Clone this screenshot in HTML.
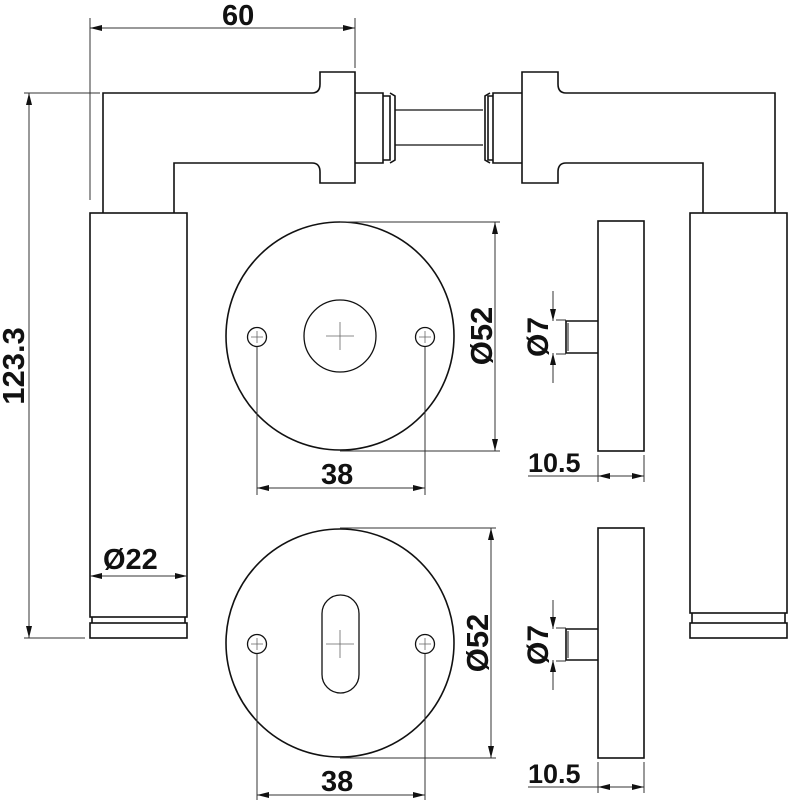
<!DOCTYPE html>
<html><head><meta charset="utf-8"><style>
html,body{margin:0;padding:0;background:#fff;}
svg{display:block;}
text{font-family:"Liberation Sans",sans-serif;font-weight:bold;fill:#111;}
</style></head><body>
<svg width="790" height="800" viewBox="0 0 790 800" xmlns="http://www.w3.org/2000/svg">
<defs>
<marker id="a" viewBox="0 0 12 6" refX="12" refY="3" markerWidth="12" markerHeight="6" orient="auto-start-reverse" markerUnits="userSpaceOnUse"><path d="M0,0 L12,3 L0,6 z" fill="#111"/></marker>
</defs>
<g fill="none" stroke="#111" stroke-width="1.6">
<path d="M103,213 V93 H312 Q320,93 320,84 V72 H355 V183 H320 V172 Q320,163 312,163 H174 V213"/>
<rect x="90" y="213" width="97" height="404"/>
<path d="M92,617 V623 M185,617 V623"/>
<rect x="90" y="623" width="97" height="15"/>
<path d="M355,93 H383 V163 H355"/>
<path d="M383,96 H390 V160 H383"/>
<path d="M390,93 L395,96 V160 L390,163"/>
<path d="M395,110 H483 M395,145 H483" stroke-width="1.2"/>
<path d="M490,93 L485,96 V160 L490,163"/>
<path d="M493,96 H488 V160 H493"/>
<path d="M522,93 H493 V163 H522"/>
<path d="M703,213 V163 H566 Q558,163 558,172 V183 H522 V72 H558 V84 Q558,93 566,93 H775 V213"/>
<rect x="690" y="213" width="97" height="400"/>
<path d="M692,613 V623 M785,613 V623"/>
<rect x="690" y="623" width="97" height="15"/>
<circle cx="340" cy="336" r="114"/>
<circle cx="340" cy="336" r="36" stroke-width="1.3"/>
<circle cx="257" cy="337" r="9.5" stroke-width="1.3"/>
<circle cx="425" cy="337" r="9.5" stroke-width="1.3"/>
<circle cx="340" cy="643" r="114"/>
<rect x="322" y="595" width="37" height="98" rx="18.5" stroke-width="1.3"/>
<circle cx="257" cy="644" r="9.5" stroke-width="1.3"/>
<circle cx="425" cy="644" r="9.5" stroke-width="1.3"/>
<rect x="598" y="221" width="46" height="230"/>
<path d="M598,321 H566 V353 H598"/>
<path d="M568,323 V351" stroke-width="1"/>
<rect x="598" y="528" width="46" height="230"/>
<path d="M598,629 H566 V660 H598"/>
<path d="M568,631 V658" stroke-width="1"/>
</g>
<g stroke="#666" stroke-width="0.8" fill="none">
<path d="M326,336 H354 M340,322 V350"/>
<path d="M251,337 H263 M257,331 V343 M419,337 H431 M425,331 V343"/>
<path d="M326,644 H354 M340,630 V658"/>
<path d="M251,644 H263 M257,638 V650 M419,644 H431 M425,638 V650"/>
</g>
<g stroke="#333" stroke-width="1" fill="none">
<path d="M90,18 V200 M355,18 V68"/>
<path d="M90,28 H355" marker-start="url(#a)" marker-end="url(#a)"/>
<path d="M24,93 H100 M24,638 H85"/>
<path d="M29,93 V638" marker-start="url(#a)" marker-end="url(#a)"/>
<path d="M90,576 H187" marker-start="url(#a)" marker-end="url(#a)"/>
<path d="M340,222 H500 M340,451 H500"/>
<path d="M495,222 V451" marker-start="url(#a)" marker-end="url(#a)"/>
<path d="M257,347 V495 M425,347 V495"/>
<path d="M257,488 H425" marker-start="url(#a)" marker-end="url(#a)"/>
<path d="M340,528 H496 M340,758 H496"/>
<path d="M491,528 V758" marker-start="url(#a)" marker-end="url(#a)"/>
<path d="M257,654 V800 M425,654 V800"/>
<path d="M257,795 H425" marker-start="url(#a)" marker-end="url(#a)"/>
<path d="M553,291 V321 M553,383 V353"/>
<path d="M553,301 V321" marker-end="url(#a)"/>
<path d="M553,373 V353" marker-end="url(#a)"/>
<path d="M556,320 H566 M556,354 H566"/>
<path d="M553,600 V629 M553,690 V660"/>
<path d="M553,609 V629" marker-end="url(#a)"/>
<path d="M553,681 V660" marker-end="url(#a)"/>
<path d="M556,628 H566 M556,661 H566"/>
<path d="M598,455 V482 M644,455 V482 M528,476 H598"/>
<path d="M598,476 H644" marker-start="url(#a)" marker-end="url(#a)"/>
<path d="M598,762 V793 M644,762 V793 M528,787 H598"/>
<path d="M598,787 H644" marker-start="url(#a)" marker-end="url(#a)"/>
</g>
<text x="222" y="25" font-size="29">60</text>
<text x="103" y="569" font-size="29">Ø22</text>
<text x="321" y="484" font-size="29">38</text>
<text x="321" y="791" font-size="29">38</text>
<text x="528" y="472" font-size="27">10.5</text>
<text x="528" y="783" font-size="27">10.5</text>
<text transform="translate(24,366) rotate(-90)" text-anchor="middle" font-size="31">123.3</text>
<text transform="translate(492,336) rotate(-90)" text-anchor="middle" font-size="31">Ø52</text>
<text transform="translate(488,643) rotate(-90)" text-anchor="middle" font-size="31">Ø52</text>
<text transform="translate(548,337) rotate(-90)" text-anchor="middle" font-size="30">Ø7</text>
<text transform="translate(548,645) rotate(-90)" text-anchor="middle" font-size="30">Ø7</text>
</svg>
</body></html>
